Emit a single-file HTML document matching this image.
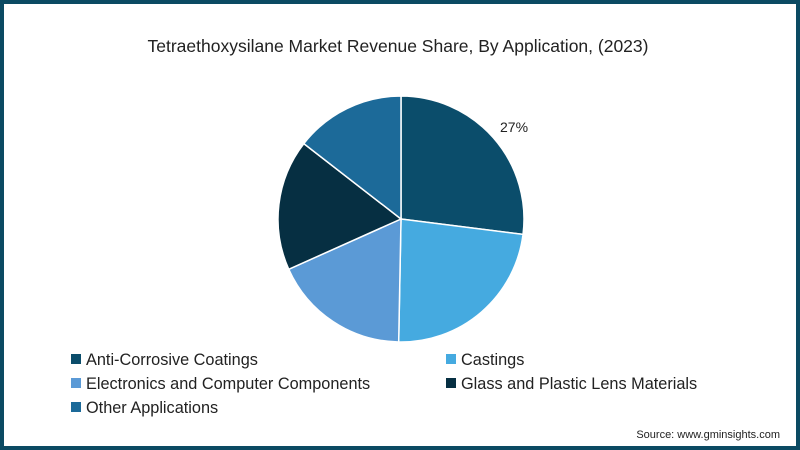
<!DOCTYPE html>
<html><head><meta charset="utf-8"><style>
body{margin:0;width:800px;height:450px;overflow:hidden;background:#fff;font-family:"Liberation Sans",sans-serif}
#frame{position:absolute;left:0;top:0;width:792px;height:442px;border:4px solid #0b4a63;background:#fff}
</style></head><body>
<div id="frame"></div>
<svg id="chart" width="800" height="450" style="position:absolute;left:0;top:0">
<text x="398" y="52" text-anchor="middle" font-size="17.5" fill="#222">Tetraethoxysilane Market Revenue Share, By Application,  (2023)</text>
<g id="slices"></g>
<text x="500" y="132" font-size="14" fill="#222">27%</text>
<g id="legend"></g>
<text x="780" y="438" text-anchor="end" font-size="11" fill="#222">Source: www.gminsights.com</text>
</svg>
<script>
const categories=["Anti-Corrosive Coatings","Castings","Electronics and Computer Components","Glass and Plastic Lens Materials","Other Applications"];
const values=[27,23.3,18,17.2,14.5];
const colors=["#0b4d6b","#45aae0","#5b9ad6","#062f42","#1c6a99"];
const ns="http://www.w3.org/2000/svg";
const cx=401,cy=219,r=123;
const total=values.reduce((a,b)=>a+b,0);
let a0=0;
const sg=document.getElementById('slices');
values.forEach((v,i)=>{
  const a1=a0+v/total*2*Math.PI;
  const x0=cx+r*Math.sin(a0),y0=cy-r*Math.cos(a0),x1=cx+r*Math.sin(a1),y1=cy-r*Math.cos(a1);
  const p=document.createElementNS(ns,'path');
  p.setAttribute('d',`M${cx},${cy}L${x0},${y0}A${r},${r} 0 ${a1-a0>Math.PI?1:0} 1 ${x1},${y1}Z`);
  p.setAttribute('fill',colors[i]);p.setAttribute('stroke','#fff');p.setAttribute('stroke-width','1.5');
  
  
  sg.appendChild(p);a0=a1;
});
const lg=document.getElementById('legend');
categories.forEach((c,i)=>{
  const col=i%2,row=Math.floor(i/2);
  const x=col?446:71,y=359+row*24;
  const g=document.createElementNS(ns,'g');
  
  
  const s=document.createElementNS(ns,'rect');
  s.setAttribute('x',x);s.setAttribute('y',y-5);s.setAttribute('width',10);s.setAttribute('height',10);s.setAttribute('fill',colors[i]);
  const t=document.createElementNS(ns,'text');
  t.setAttribute('x',x+15);t.setAttribute('y',y+6);t.setAttribute('font-size','16.3');t.setAttribute('fill','#222');
  t.textContent=c;
  g.appendChild(s);g.appendChild(t);lg.appendChild(g);
});
</script>
</body></html>
